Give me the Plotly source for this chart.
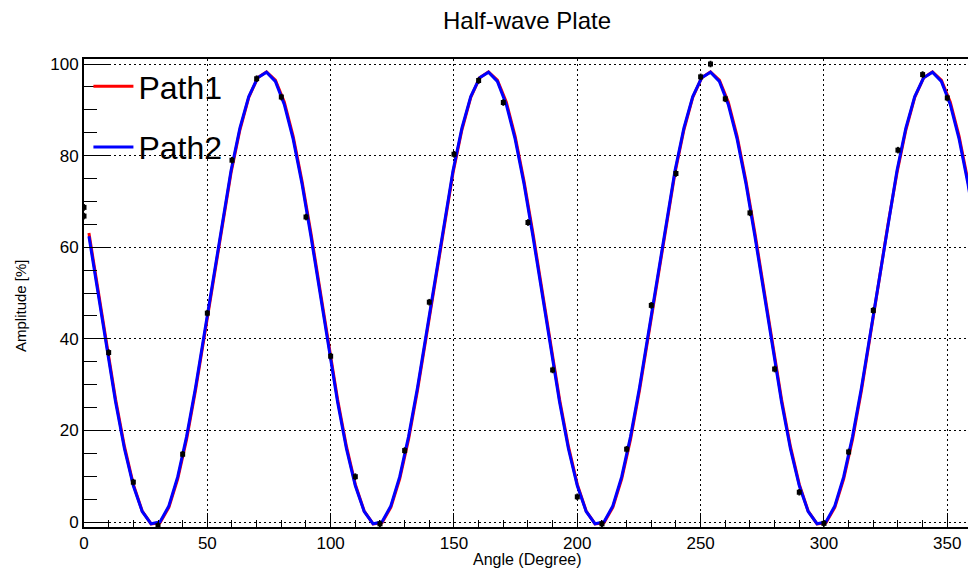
import plotly.graph_objects as go

# ---------------- data ----------------
# measured points
data_x = [0, 0, 10, 20, 30, 40, 50, 60, 70, 80, 90, 100, 110, 120, 130, 140, 150, 160, 170,
          180, 190, 200, 210, 220, 230, 240, 250, 254, 260, 270, 280, 290, 300, 310, 320,
          330, 340, 350]
data_y = [68.7, 66.8, 37.0, 8.7, -0.8, 14.8, 45.6, 79.0, 96.8, 92.8, 66.6, 36.2, 9.9, -0.4,
          15.6, 48.0, 80.3, 96.4, 91.6, 65.4, 33.2, 5.5, -0.4, 15.9, 47.3, 76.1, 97.2, 100.0,
          92.4, 67.5, 33.4, 6.5, -0.3, 15.3, 46.2, 81.2, 97.7, 92.6]
data_err = [0.6] * len(data_x)

curve_x = [2.0, 5.6, 9.2, 12.8, 16.4, 20.0, 23.6, 27.2, 30.8, 34.4, 38.0, 41.6, 45.2, 48.8,
           52.4, 56.0, 59.6, 63.2, 66.8, 70.4, 74.0, 77.6, 81.2, 84.8, 88.4,
           92.0, 95.6, 99.2, 102.8, 106.4, 110.0, 113.6, 117.2, 120.8, 124.4, 128.0, 131.6,
           135.2, 138.8, 142.4, 146.0, 149.6, 153.2, 156.8, 160.4, 164.0, 167.6, 171.2, 174.8, 178.4,
           182.0, 185.6, 189.2, 192.8, 196.4, 200.0, 203.6, 207.2, 210.8, 214.4, 218.0, 221.6,
           225.2, 228.8, 232.4, 236.0, 239.6, 243.2, 246.8, 250.4, 254.0, 257.6, 261.2, 264.8, 268.4,
           272.0, 275.6, 279.2, 282.8, 286.4, 290.0, 293.6, 297.2, 300.8, 304.4, 308.0, 311.6,
           315.2, 318.8, 322.4, 326.0, 329.6, 333.2, 336.8, 340.4, 344.0, 347.6, 351.2, 354.8, 358.4,
           362.0]

path1_y = [63.1, 50.9, 38.5, 26.8, 16.5, 8.2, 2.4, -0.4, -0.2, 3.2, 9.4, 18.1, 28.7, 40.5,
           52.9, 65.1, 76.2, 85.6, 92.7, 97.0, 98.3, 96.5, 91.7, 84.2, 74.4,
           63.1, 50.9, 38.5, 26.8, 16.5, 8.2, 2.4, -0.4, -0.2, 3.2, 9.4, 18.1, 28.7, 40.5,
           52.9, 65.1, 76.2, 85.6, 92.7, 97.0, 98.3, 96.5, 91.7, 84.2, 74.4,
           63.1, 50.9, 38.5, 26.8, 16.5, 8.2, 2.4, -0.4, -0.2, 3.2, 9.4, 18.1, 28.7, 40.5,
           52.9, 65.1, 76.2, 85.6, 92.7, 97.0, 98.3, 96.5, 91.7, 84.2, 74.4,
           63.1, 50.9, 38.5, 26.8, 16.5, 8.2, 2.4, -0.4, -0.2, 3.2, 9.4, 18.1, 28.7, 40.5,
           52.9, 65.1, 76.2, 85.6, 92.7, 97.0, 98.3, 96.5, 91.7, 84.2, 74.4,
           63.1]

path2_y = [62.4, 50.2, 37.9, 26.2, 16.0, 7.9, 2.3, -0.4, 0.0, 3.5, 9.9, 18.7, 29.3, 41.2,
           53.6, 65.7, 76.7, 86.0, 92.9, 97.0, 98.2, 96.2, 91.2, 83.6, 73.8,
           62.4, 50.2, 37.9, 26.2, 16.0, 7.9, 2.3, -0.4, 0.0, 3.5, 9.9, 18.7, 29.3, 41.2,
           53.6, 65.7, 76.7, 86.0, 92.9, 97.0, 98.2, 96.2, 91.2, 83.6, 73.8,
           62.4, 50.2, 37.9, 26.2, 16.0, 7.9, 2.3, -0.4, 0.0, 3.5, 9.9, 18.7, 29.3, 41.2,
           53.6, 65.7, 76.7, 86.0, 92.9, 97.0, 98.2, 96.2, 91.2, 83.6, 73.8,
           62.4, 50.2, 37.9, 26.2, 16.0, 7.9, 2.3, -0.4, 0.0, 3.5, 9.9, 18.7, 29.3, 41.2,
           53.6, 65.7, 76.7, 86.0, 92.9, 97.0, 98.2, 96.2, 91.2, 83.6, 73.8,
           62.4]

x_ticks = [0, 50, 100, 150, 200, 250, 300, 350]
y_ticks = [0, 20, 40, 60, 80, 100]

title_text = "Half-wave Plate"
x_title = "Angle (Degree)"
y_title = "Amplitude [%]"
series_names = ["Path1", "Path2"]

# ---------------- figure ----------------
FONT = "Liberation Sans, Arial, Helvetica, sans-serif"
W, H = 968, 570
ML, MR, MT, MB = 84, 0, 59, 43

fig = go.Figure()

fig.add_trace(go.Scatter(
    x=curve_x, y=path1_y, mode="lines", name=series_names[0],
    line=dict(color="#ff0000", width=3), legendgroup="g1"))
fig.add_trace(go.Scatter(
    x=curve_x, y=path2_y, mode="lines", name=series_names[1],
    line=dict(color="#0000ff", width=3), legendgroup="g2"))
fig.add_trace(go.Scatter(
    x=data_x, y=data_y, mode="markers", showlegend=False,
    marker=dict(symbol="square", size=5, color="black"),
    error_y=dict(type="data", array=data_err, visible=True, color="black",
                 thickness=1, width=1)))

axis_common = dict(
    showline=True, linecolor="black", linewidth=2,
    ticks="inside", tickcolor="black", tickwidth=1,
    showgrid=True, gridcolor="black", gridwidth=1, griddash="2px,3px",
    zeroline=False,
    tickfont=dict(family=FONT, size=17, color="black"),
)

fig.update_xaxes(
    range=[0, 358.4], tickvals=x_ticks, ticklen=14,
    minor=dict(dtick=10, tick0=0, ticklen=7, ticks="inside", tickcolor="black",
               tickwidth=1, showgrid=False),
    mirror=True, **axis_common)
fig.update_yaxes(
    range=[-1.09, 101.1], tickvals=y_ticks, ticklen=27,
    minor=dict(dtick=5, tick0=0, ticklen=13, ticks="inside", tickcolor="black",
               tickwidth=1, showgrid=False),
    mirror=False, **axis_common)

plot_w = W - ML - MR
plot_h = H - MT - MB

fig.update_layout(
    width=W, height=H,
    margin=dict(l=ML, r=MR, t=MT, b=MB, pad=0),
    paper_bgcolor="white", plot_bgcolor="white",
    font=dict(family=FONT, color="black"),
    title=dict(text=title_text, x=527 / W, xanchor="center", xref="container",
               y=1 - 21 / H, yanchor="middle", yref="container",
               font=dict(family=FONT, size=24, color="black")),
    showlegend=True,
    legend=dict(x=0.005, y=1.0, xanchor="left", yanchor="top",
                bgcolor="rgba(0,0,0,0)", borderwidth=0,
                font=dict(family=FONT, size=32, color="black"),
                itemwidth=40,
                tracegroupgap=16, traceorder="grouped"),
    annotations=[
        dict(text=x_title, xref="paper", yref="paper",
             x=(527 - ML) / plot_w, y=-(559 - (H - MB)) / plot_h,
             xanchor="center", yanchor="middle", showarrow=False, borderpad=0,
             font=dict(family=FONT, size=16, color="black")),
        dict(text=y_title, xref="paper", yref="paper",
             x=(20 - ML) / plot_w, y=(H - MB - 306) / plot_h, textangle=-90,
             xanchor="center", yanchor="middle", showarrow=False,
             font=dict(family=FONT, size=15, color="black")),
    ],
)

fig.write_html("out.html")
